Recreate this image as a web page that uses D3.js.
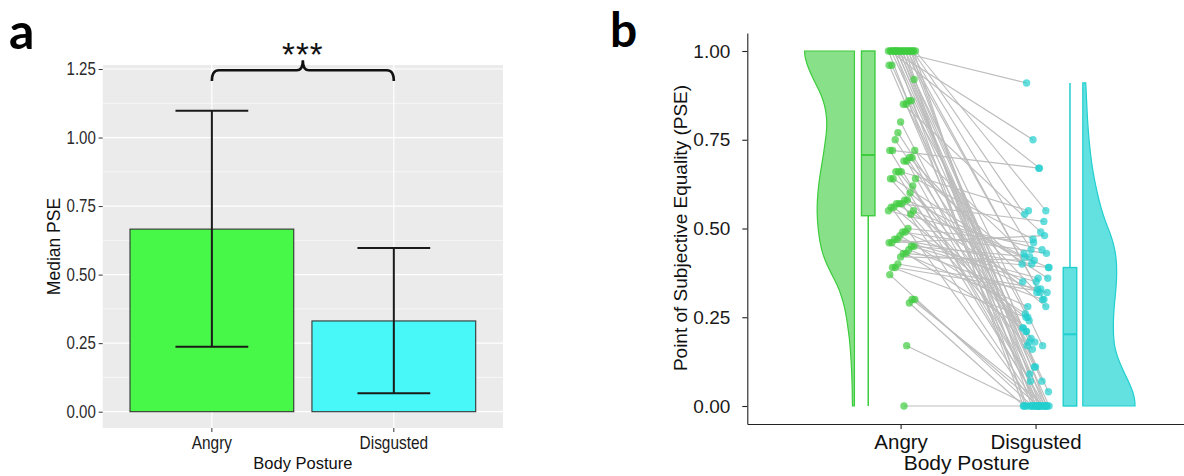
<!DOCTYPE html>
<html>
<head>
<meta charset="utf-8">
<script src="https://cdn.jsdelivr.net/npm/d3@7"></script>
<style>
  body { margin: 0; background: #fff; }
  text { font-family: "Liberation Sans", Arial, sans-serif; }
</style>
</head>
<body>
<div id="viz"></div>
<script>
// ---- data ----
const categories = ["Angry", "Disgusted"];

// panel a: median PSE with error bars
const medianPSE = [0.666, 0.331];
const errLow = [0.237, 0.067];
const errHigh = [1.098, 0.597];
const yTicksA = [0, 0.25, 0.5, 0.75, 1.0, 1.25];
const yMinorA = [0.125, 0.375, 0.625, 0.875, 1.125];

// panel b: per-participant PSE (same index = same participant)
const angryPSE = [1,1,1,1,1,1,1,1,1,1,1,1,1,1,1,1,1,1,1,1,1,1,
  0.96,0.96,0.92,0.86,0.86,0.85,0.85,0.80,0.77,0.75,
  0.72,0.72,0.72,0.70,0.70,0.69,0.69,0.66,0.66,0.66,
  0.64,0.64,0.64,0.62,0.60,0.58,0.58,0.57,0.57,0.57,
  0.56,0.56,0.55,0.55,0.54,0.50,0.49,0.49,0.48,0.47,
  0.47,0.46,0.46,0.45,0.45,0.44,0.43,0.43,0.42,0.40,
  0.39,0.39,0.37,0.30,0.30,0.29,0.17,0.00];
const disgustedPSE = [0.91,0.75,0.67,0.55,0.54,0.44,0.33,0.30,0.22,0.18,0.11,0.07,0.04,0,0,0,0,0,0,0,0,0,
  0.09,0,0.17,0,0.25,0.11,0.49,0,0.21,0.16,
  0.67,0,0.43,0.07,0.32,0,0.40,0.55,0.18,0,
  0.36,0.21,0.47,0,0.28,0.42,0.19,0,0.52,0.35,
  0.24,0,0.44,0.39,0.17,0.46,0.32,0.43,0.26,0.40,
  0.36,0.48,0.22,0.42,0.35,0.30,0.39,0.28,0.41,0.33,
  0.32,0.25,0,0,0,0,0,0];
const yTicksB = [0, 0.25, 0.5, 0.75, 1.0];

// box stats: [min, q1, median, q3, max]
const boxAngry = [0, 0.536, 0.707, 1.0, 1.0];
const boxDisgusted = [0, 0, 0.202, 0.39, 0.91];

// half-violin profiles: [PSE, relative density]
const violinAngry = [[1.00,1.00],[0.98,0.99],[0.95,0.92],[0.92,0.82],[0.89,0.71],[0.86,0.62],
  [0.83,0.57],[0.80,0.55],[0.77,0.56],[0.74,0.59],[0.70,0.63],[0.66,0.68],[0.62,0.72],
  [0.58,0.745],[0.54,0.75],[0.50,0.73],[0.46,0.69],[0.43,0.64],[0.40,0.56],[0.37,0.45],
  [0.34,0.34],[0.31,0.26],[0.28,0.20],[0.25,0.16],[0.22,0.13],[0.19,0.10],[0.15,0.076],
  [0.10,0.056],[0.05,0.044],[0.00,0.04]];
const violinDisgusted = [[0.91,0.057],[0.86,0.073],[0.80,0.092],[0.74,0.124],[0.68,0.172],
  [0.64,0.22],[0.60,0.277],[0.56,0.344],[0.52,0.43],[0.48,0.545],[0.44,0.62],[0.40,0.65],
  [0.36,0.65],[0.32,0.63],[0.28,0.60],[0.24,0.585],[0.20,0.585],[0.16,0.61],[0.12,0.71],
  [0.08,0.84],[0.05,0.935],[0.03,0.98],[0.01,1.0],[0.00,1.0]];

const W = 1184, H = 476;
const svg = d3.select("#viz").append("svg")
  .attr("width", W).attr("height", H);

// ================= panel a =================
const pa = {left: 102.7, right: 503, top: 65, bottom: 428};
const xA = d3.scaleBand().domain(categories).range([pa.left, pa.right])
  .paddingInner(0.1).paddingOuter(0.15);
const yA = d3.scaleLinear().domain([-0.0595, 1.2646]).range([pa.bottom, pa.top]);
const fillA = ["#48F848", "#48F8F8"];

const ga = svg.append("g");
ga.append("rect")
  .attr("x", pa.left).attr("y", pa.top)
  .attr("width", pa.right - pa.left).attr("height", pa.bottom - pa.top)
  .attr("fill", "#EBEBEB");

ga.selectAll(".minor").data(yMinorA).enter().append("line")
  .attr("x1", pa.left).attr("x2", pa.right)
  .attr("y1", d => yA(d)).attr("y2", d => yA(d))
  .attr("stroke", "#fff").attr("stroke-width", 0.6);
ga.selectAll(".major").data(yTicksA).enter().append("line")
  .attr("x1", pa.left).attr("x2", pa.right)
  .attr("y1", d => yA(d)).attr("y2", d => yA(d))
  .attr("stroke", "#fff").attr("stroke-width", 1.2);
ga.selectAll(".vgrid").data(categories).enter().append("line")
  .attr("x1", d => xA(d) + xA.bandwidth() / 2).attr("x2", d => xA(d) + xA.bandwidth() / 2)
  .attr("y1", pa.top).attr("y2", pa.bottom)
  .attr("stroke", "#fff").attr("stroke-width", 1.2);

ga.selectAll(".bar").data(categories).enter().append("rect")
  .attr("x", d => xA(d))
  .attr("width", xA.bandwidth())
  .attr("y", (d, i) => yA(medianPSE[i]))
  .attr("height", (d, i) => yA(0) - yA(medianPSE[i]))
  .attr("fill", (d, i) => fillA[i])
  .attr("stroke", "#333").attr("stroke-width", 1.1);

// error bars
const whisk = xA.step() * 0.2;
categories.forEach(function(c, i) {
  const cx = xA(c) + xA.bandwidth() / 2;
  const eb = ga.append("g").attr("stroke", "#1a1a1a").attr("stroke-width", 2);
  eb.append("line").attr("x1", cx).attr("x2", cx)
    .attr("y1", yA(errLow[i])).attr("y2", yA(errHigh[i]));
  eb.append("line").attr("x1", cx - whisk).attr("x2", cx + whisk)
    .attr("y1", yA(errLow[i])).attr("y2", yA(errLow[i]));
  eb.append("line").attr("x1", cx - whisk).attr("x2", cx + whisk)
    .attr("y1", yA(errHigh[i])).attr("y2", yA(errHigh[i]));
});

// axes a (the source figure is squeezed sideways, so tick text is narrowed a bit)
const axLeftA = ga.append("g").attr("transform", `translate(${pa.left},0)`)
  .call(d3.axisLeft(yA).tickValues(yTicksA).tickFormat(d3.format(".2f")).tickSize(4).tickPadding(4));
axLeftA.select(".domain").remove();
axLeftA.selectAll("line").attr("stroke", "#333");
axLeftA.selectAll("text").attr("font-size", 17.5).attr("fill", "#2a2a2a")
  .attr("transform", "scale(0.86,1)")
  .style("font-family", "Liberation Sans, Arial, sans-serif");

const axBotA = ga.append("g").attr("transform", `translate(0,${pa.bottom})`)
  .call(d3.axisBottom(xA).tickSize(4).tickPadding(5));
axBotA.select(".domain").remove();
axBotA.selectAll("line").attr("stroke", "#333");
axBotA.selectAll("text").attr("font-size", 17.5).attr("fill", "#1a1a1a")
  .attr("transform", "scale(0.88,1)")
  .style("font-family", "Liberation Sans, Arial, sans-serif");

ga.append("text").attr("x", (pa.left + pa.right) / 2).attr("y", 469)
  .attr("text-anchor", "middle").attr("font-size", 16.5).attr("fill", "#111")
  .text("Body Posture");
ga.append("text")
  .attr("transform", `translate(60,${(pa.top + pa.bottom) / 2}) rotate(-90)`)
  .attr("text-anchor", "middle").attr("font-size", 17.5).attr("fill", "#111")
  .text("Median PSE");

// significance bracket
const bx1 = xA(categories[0]) + xA.bandwidth() / 2;
const bx2 = xA(categories[1]) + xA.bandwidth() / 2;
const bm = (bx1 + bx2) / 2;
const by = 70.3;
ga.append("path")
  .attr("d", `M${bx1},81 Q${bx1},${by} ${bx1 + 7},${by} L${bm - 6},${by} Q${bm},${by} ${bm},${by - 10}`
    + ` Q${bm},${by} ${bm + 6},${by} L${bx2 - 7},${by} Q${bx2},${by} ${bx2},81`)
  .attr("fill", "none").attr("stroke", "#111").attr("stroke-width", 2.6);
ga.append("text").attr("x", bm).attr("y", 66)
  .attr("text-anchor", "middle").attr("font-size", 33).attr("fill", "#111")
  .attr("letter-spacing", 1)
  .text("***");

svg.append("text").attr("x", 9).attr("y", 49)
  .attr("font-size", 50).attr("font-weight", "bold")
  .style("font-family", "Lato, 'Open Sans', sans-serif")
  .text("a");

// ================= panel b =================
const gb = svg.append("g");
const xB = d3.scaleLinear().domain([-0.136, 3.1]).range([747.3, 1184]);
const yB = d3.scaleLinear().domain([-0.0507, 1.0507]).range([424, 33]);
const green = "#3DCC3D", cyan = "#22CFCF";
const greenFill = "#88E088", cyanFill = "#63E0E0";

// deterministic jitter (layout only)
const jitA = angryPSE.map((d, i) => (((i * 37 + 11) % 41) / 40 - 0.5) * 0.2 + 0.01);
const jitD = disgustedPSE.map((d, i) => (((i * 53 + 7) % 43) / 42 - 0.5) * 0.2);

// connecting lines
gb.selectAll(".pair").data(angryPSE).enter().append("line")
  .attr("x1", (d, i) => xB(1 + jitA[i])).attr("y1", d => yB(d))
  .attr("x2", (d, i) => xB(2 + jitD[i])).attr("y2", (d, i) => yB(disgustedPSE[i]))
  .attr("stroke", "#BDBDBD").attr("stroke-width", 1.15);

gb.selectAll(".ptA").data(angryPSE).enter().append("circle")
  .attr("cx", (d, i) => xB(1 + jitA[i])).attr("cy", d => yB(d)).attr("r", 3.7)
  .attr("fill", green).attr("fill-opacity", 0.7);
gb.selectAll(".ptD").data(disgustedPSE).enter().append("circle")
  .attr("cx", (d, i) => xB(2 + jitD[i])).attr("cy", d => yB(d)).attr("r", 3.7)
  .attr("fill", cyan).attr("fill-opacity", 0.7);

// half violins
const vW = 0.37; // max half-width in x units
const vAngry = d3.area().curve(d3.curveBasis)
  .y(d => yB(d[0]))
  .x0(xB(1 - 0.342))
  .x1(d => xB(1 - 0.342 - d[1] * vW));
gb.append("path").datum(violinAngry).attr("d", vAngry)
  .attr("fill", greenFill).attr("stroke", green).attr("stroke-width", 1.2);
const vDisg = d3.area().curve(d3.curveBasis)
  .y(d => yB(d[0]))
  .x0(xB(2 + 0.35))
  .x1(d => xB(2 + 0.35 + d[1] * 0.387));
gb.append("path").datum(violinDisgusted).attr("d", vDisg)
  .attr("fill", cyanFill).attr("stroke", cyan).attr("stroke-width", 1.2);

// boxplots
function drawBox(stats, cx, col, fillCol) {
  const hw = 0.05;
  const g = gb.append("g");
  g.append("line").attr("x1", xB(cx)).attr("x2", xB(cx))
    .attr("y1", yB(stats[0])).attr("y2", yB(stats[1]))
    .attr("stroke", col).attr("stroke-width", 1.5);
  g.append("line").attr("x1", xB(cx)).attr("x2", xB(cx))
    .attr("y1", yB(stats[3])).attr("y2", yB(stats[4]))
    .attr("stroke", col).attr("stroke-width", 1.5);
  g.append("rect").attr("x", xB(cx - hw)).attr("width", xB(cx + hw) - xB(cx - hw))
    .attr("y", yB(stats[3])).attr("height", yB(stats[1]) - yB(stats[3]))
    .attr("fill", fillCol).attr("stroke", col).attr("stroke-width", 1.4);
  g.append("line").attr("x1", xB(cx - hw)).attr("x2", xB(cx + hw))
    .attr("y1", yB(stats[2])).attr("y2", yB(stats[2]))
    .attr("stroke", col).attr("stroke-width", 2);
}
drawBox(boxAngry, 1 - 0.24, green, greenFill);
drawBox(boxDisgusted, 2 + 0.255, cyan, cyanFill);

// axes b
const axLeftB = gb.append("g").attr("transform", "translate(747.3,0)")
  .call(d3.axisLeft(yB).tickValues(yTicksB).tickFormat(d3.format(".2f")).tickSize(5).tickSizeOuter(0).tickPadding(12));
axLeftB.selectAll("path, line").attr("stroke", "#222").attr("stroke-width", 1.1);
axLeftB.selectAll("text").attr("font-size", 19).attr("fill", "#1a1a1a")
  .style("font-family", "Liberation Sans, Arial, sans-serif");

const axBotB = gb.append("g").attr("transform", "translate(0,424)")
  .call(d3.axisBottom(xB).tickValues([1, 2]).tickFormat(d => categories[d - 1]).tickSize(5).tickSizeOuter(0).tickPadding(5));
axBotB.selectAll("path, line").attr("stroke", "#222").attr("stroke-width", 1.1);
axBotB.selectAll("text").attr("font-size", 20.5).attr("fill", "#111")
  .style("font-family", "Liberation Sans, Arial, sans-serif");

gb.append("text").attr("x", 966.7).attr("y", 470)
  .attr("text-anchor", "middle").attr("font-size", 21).attr("fill", "#111")
  .text("Body Posture");
gb.append("text")
  .attr("transform", "translate(687,228) rotate(-90)")
  .attr("text-anchor", "middle").attr("font-size", 19).attr("fill", "#111")
  .text("Point of Subjective Equality (PSE)");

svg.append("text").attr("x", 610).attr("y", 47)
  .attr("font-size", 48).attr("font-weight", "bold")
  .style("font-family", "Lato, 'Open Sans', sans-serif")
  .text("b");
</script>
</body>
</html>
